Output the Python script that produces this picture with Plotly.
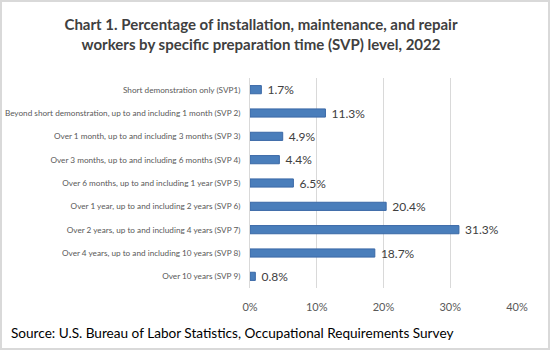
import plotly.graph_objects as go

categories = [
    "Short demonstration only (SVP1)",
    "Beyond short demonstration, up to and including 1 month (SVP 2)",
    "Over 1 month, up to and including 3 months (SVP 3)",
    "Over 3 months, up to and including 6 months (SVP 4)",
    "Over 6 months, up to and including 1 year (SVP 5)",
    "Over 1 year, up to and including 2 years (SVP 6)",
    "Over 2 years, up to and including 4 years (SVP 7)",
    "Over 4 years, up to and including 10 years (SVP 8)",
    "Over 10 years (SVP 9)",
]
values = [1.7, 11.3, 4.9, 4.4, 6.5, 20.4, 31.3, 18.7, 0.8]
labels = [f"\u00a0{v:.1f}%" for v in values]
tick_vals = [0, 10, 20, 30, 40]
tick_text = ["0%", "10%", "20%", "30%", "40%"]

W, H = 551, 351
L, R, T, B = 250, 34, 78, 63
pw, ph = W - L - R, H - T - B
FONT = "Lato, Carlito, Calibri, sans-serif"

def px_x(p):
    return (p - L) / pw

def px_y(p):
    return 1 - (p - T) / ph

fig = go.Figure(go.Bar(
    y=categories, x=values, orientation="h",
    marker=dict(color="#4a7ebb", line=dict(color="#3a68a6", width=1)),
    text=labels, textposition="outside", constraintext="none",
    textfont=dict(family=FONT, size=12, color="#404040"),
    cliponaxis=False,
))

fig.update_layout(
    width=W, height=H,
    margin=dict(l=L, r=R, t=T, b=B, autoexpand=False),
    paper_bgcolor="white", plot_bgcolor="white",
    bargap=0.65,
    showlegend=False,
    title=dict(
        text="Chart 1. Percentage of installation, maintenance, and repair<br>workers by specific preparation time (SVP) level, 2022",
        x=261 / W, xanchor="center", y=1 - 30 / H, yanchor="middle",
        font=dict(family=FONT, size=15, color="#404040", weight="bold"),
    ),
    xaxis=dict(
        range=[0, 40], tickvals=tick_vals, ticktext=tick_text,
        showgrid=True, gridcolor="#d9d9d9", gridwidth=1,
        zeroline=False, showline=False, ticks="", automargin=False,
        tickfont=dict(family=FONT, size=11, color="#595959"),
        ticklabelstandoff=11,
    ),
    yaxis=dict(
        autorange="reversed", showgrid=False, zeroline=False, automargin=False,
        showline=True, linecolor="#d9d9d9", linewidth=1, ticks="",
        tickfont=dict(family=FONT, size=8.2, color="#595959"),
        ticklabelstandoff=7,
    ),
    font=dict(family=FONT),
)

fig.add_annotation(
    text="Source: U.S. Bureau of Labor Statistics, Occupational Requirements Survey",
    xref="paper", yref="paper", x=px_x(9), y=px_y(333),
    xanchor="left", yanchor="middle", showarrow=False,
    font=dict(family=FONT, size=13.6, color="#000000"),
)

fig.add_shape(
    type="rect", xref="paper", yref="paper",
    x0=px_x(1), x1=px_x(549), y0=px_y(1), y1=px_y(349),
    line=dict(color="#d9d9d9", width=2), layer="above",
)

fig.write_html("out.html")
